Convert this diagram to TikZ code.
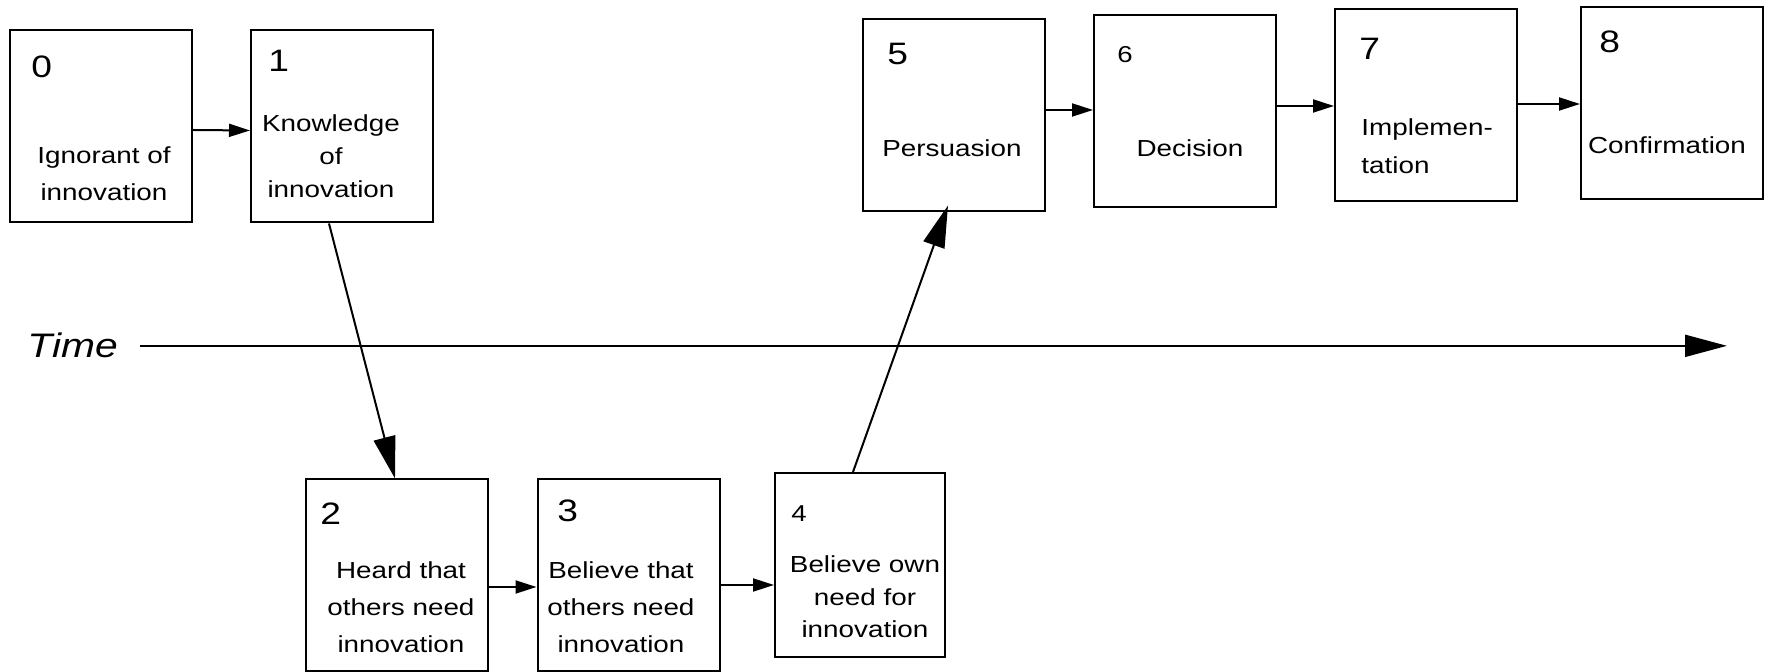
\documentclass[tikz,border=0pt]{standalone}
\usepackage{fontspec}
\setmainfont{Liberation Sans}[FakeStretch=1.2]
\usetikzlibrary{arrows.meta}

\tikzset{
	stage/.style={draw, line width=1pt, inner sep=0pt, minimum width=91pt, minimum height=96pt},
	num/.style={anchor=base west, inner sep=0pt, font=\fontsize{15.5}{18}\selectfont},
	numsmall/.style={anchor=base west, inner sep=0pt, font=\fontsize{11.5}{14}\selectfont},
	lbl/.style={anchor=base, inner sep=0pt, align=center, font=\fontsize{11.6}{18.5}\selectfont},
	arr/.style={line width=1pt, -{Triangle[length=10.5pt,width=6.5pt]}},
	bigarr/.style={line width=1pt, -{Triangle[length=21pt,width=11pt]}}
}

\begin{document}
\begin{tikzpicture}[x=0.5pt, y=-0.5pt]
	\useasboundingbox (0,0) rectangle (1769,672);
	% Cajas
		\node[stage] (b0) at (101,126) {};
		\node[stage] (b1) at (342,126.5) {};
		\node[stage] (b2) at (397,575.5) {};
		\node[stage] (b3) at (628.5,575.5) {};
		\node[stage, minimum width=85pt, minimum height=92pt] (b4) at (860,565) {};
		\node[stage] (b5) at (953.5,115.5) {};
		\node[stage] (b6) at (1185,111.5) {};
		\node[stage] (b7) at (1426,105) {};
		\node[stage] (b8) at (1672,103) {};
	% Numeros
		\node[num] (n0) at (31,78) {0};
		\node[num] (n1) at (268,72) {1};
		\node[num] (n2) at (320,525) {2};
		\node[num] (n3) at (557,522) {3};
		\node[numsmall] (n4) at (791,522) {4};
		\node[num] (n5) at (887,65) {5};
		\node[numsmall] (n6) at (1117,63) {6};
		\node[num] (n7) at (1359,60) {7};
		\node[num] (n8) at (1599,53) {8};
	% Etiquetas (base = ultima linea)
		\node[lbl] (t0) at (104,201) {Ignorant of\\innovation};
		\node[lbl, font=\fontsize{11.6}{16.5}\selectfont] (t1) at (331,198) {Knowledge\\of\\innovation};
		\node[lbl] (t2) at (401,653) {Heard that\\others need\\innovation};
		\node[lbl] (t3) at (621,653) {Believe that\\others need\\innovation};
		\node[lbl, font=\fontsize{11.6}{16.25}\selectfont] (t4) at (865,638) {Believe own\\need for\\innovation};
		\node[lbl] (t5) at (952,157) {Persuasion};
		\node[lbl] (t6) at (1190,157) {Decision};
		\node[lbl, anchor=base west, align=left, font=\fontsize{11.6}{19}\selectfont] (t7) at (1361,174) {Implemen-\\tation};
		\node[lbl] (t8) at (1667,154) {Confirmation};
	% Tiempo
		\node[anchor=base west, inner sep=0pt, font=\fontsize{17}{20}\selectfont\itshape] (time) at (27,358) {Time};
		\coordinate (tend) at (1727,343);
		\draw[bigarr] ([xshift=11pt]time.east) -- (time.east -| tend);
	% Flechas
		\draw[arr] ([yshift=-2pt]b0.east) -- ([yshift=-2pt]b1.west);
		\draw[bigarr] ([xshift=-6.5pt]b1.south) -- ([xshift=-1pt]b2.north);
		\draw[arr] ([yshift=-5.75pt]b2.east) -- ([yshift=-5.75pt]b3.west);
		\draw[arr] ([yshift=-4.75pt]b3.east) -- ([yshift=-10pt]b4.west);
		\draw[bigarr] ([xshift=-3.5pt]b4.north) -- ([xshift=-2.75pt,yshift=3.5pt]b5.south);
		\draw[arr] ([yshift=2.75pt]b5.east) -- ([yshift=0.75pt]b6.west);
		\draw[arr] ([yshift=2.75pt]b6.east) -- ([yshift=-0.5pt]b7.west);
		\draw[arr] ([yshift=0.5pt]b7.east) -- ([yshift=-0.5pt]b8.west);
\end{tikzpicture}
\end{document}
